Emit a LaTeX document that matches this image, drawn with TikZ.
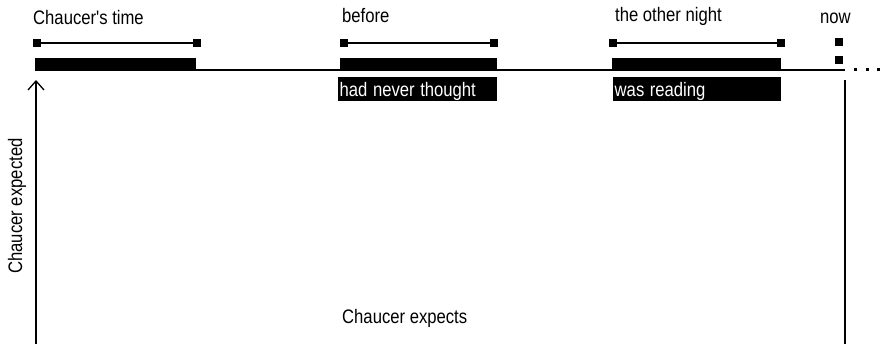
\documentclass[tikz,border=0pt]{standalone}
\usepackage{fontspec}
\setmainfont{Liberation Sans}[Ligatures=TeXOff]
\usetikzlibrary{arrows.meta}
\newcommand{\tallt}[1]{\scalebox{0.98}[1.15]{#1}}
\begin{document}
\begin{tikzpicture}[x=1pt,y=-1pt,
  lbl/.style={inner sep=0pt,anchor=west,font=\fontsize{17}{17}\selectfont},
  sq/.style={fill=black,minimum size=7.5pt,inner sep=0pt},
  bar/.style={fill=black,inner sep=0pt,anchor=south west},
  tag/.style={fill=black,text=white,inner sep=0pt,anchor=north west,font=\fontsize{17}{17}\selectfont,minimum height=24pt,text depth=0pt},
  thin/.style={line width=1.3pt},
  axis/.style={line width=2pt},
  dotsq/.style={fill=black,minimum size=3pt,inner sep=0pt}]
\useasboundingbox (0,0) rectangle (885,344);
% labels
\node[lbl] (tc) at (33,18) {\tallt{Chaucer's time}};
\node[lbl] (tb) at (342,16) {\tallt{before}};
\node[lbl] (tn) at (615,16) {\tallt{the other night}};
\node[lbl] (tw) at (820,18) {\tallt{now}};
% interval squares
\node[sq] (c1) at (37,43) {};
\node[sq] (c2) at (197,43) {};
\node[sq] (b1) at (344,43) {};
\node[sq] (b2) at (494,43) {};
\node[sq] (n1) at (613,43) {};
\node[sq] (n2) at (781,43) {};
\node[sq] (w1) at (839,42) {};
\node[sq] (w2) at (839,60) {};
\draw[thin] (c1) -- (c2);
\draw[thin] (b1) -- (b2);
\draw[thin] (n1) -- (n2);
% bars
\node[bar,minimum width=161pt,minimum height=13pt] (cb) at (35,71) {};
\node[bar,minimum width=157pt,minimum height=13pt] (bb) at (340,71) {};
\node[bar,minimum width=169pt,minimum height=13pt] (nb) at (612,71) {};
% timeline
\coordinate (t0) at (35,70);
\coordinate (t1) at (845,70);
\draw[axis] (t0) -- (t1);
\node[dotsq] (d1) at (855,70) {};
\node[dotsq] (d2) at (867,70) {};
\node[dotsq] (d3) at (878,70) {};
% tags
\node[tag,minimum width=159pt,text width=158pt,align=left] (hn) at (338,77) {\hspace{1pt}\tallt{had never thought}};
\node[tag,minimum width=168pt,text width=167pt,align=left] (wr) at (613,77) {\hspace{1pt}\tallt{was reading}};
% verticals
\coordinate (a0) at (36,344);
\coordinate (a1) at (36,80);
\draw[line width=1.5pt,-{Straight Barb[length=9pt,width=16pt,line width=1.3pt]}] (a0) -- (a1);
\coordinate (r0) at (845,344);
\coordinate (r1) at (845,80);
\draw[line width=1.5pt] (r0) -- (r1);
% bottom texts
\node[lbl,rotate=90,anchor=center] (ce) at (17,206) {\tallt{Chaucer expected}};
\node[lbl] (cx) at (342,318) {\tallt{Chaucer expects}};
\end{tikzpicture}
\end{document}
